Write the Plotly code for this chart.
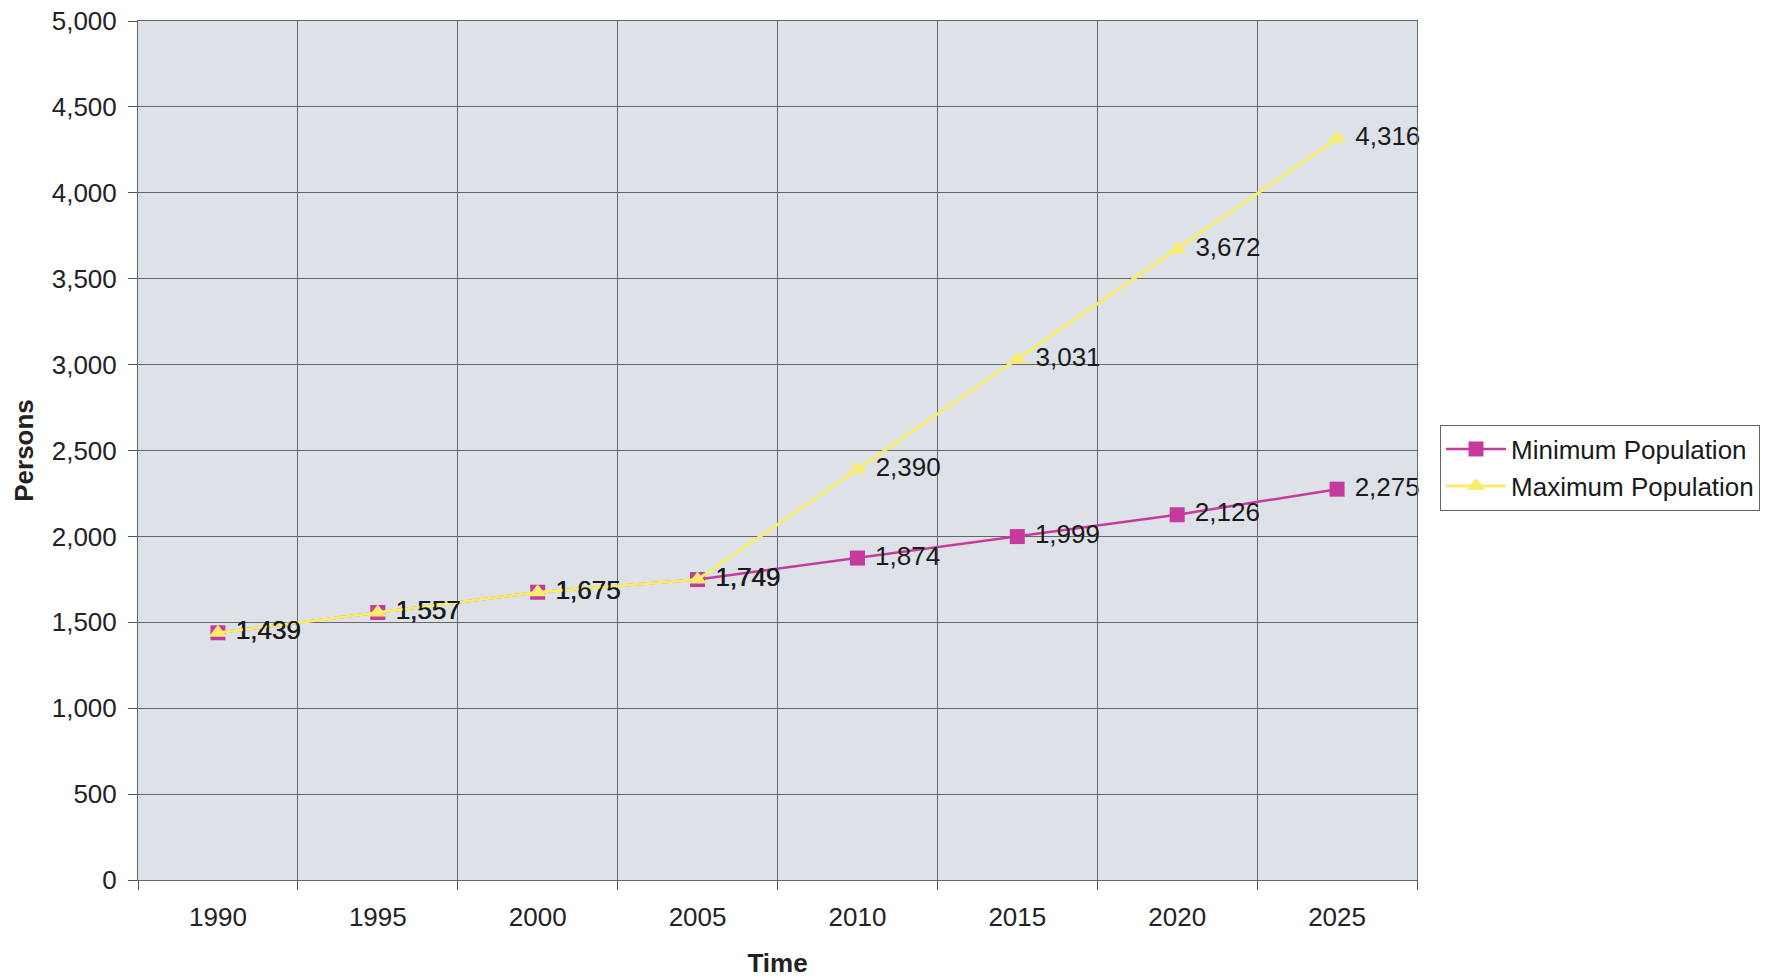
import plotly.graph_objects as go

years = ["1990", "1995", "2000", "2005", "2010", "2015", "2020", "2025"]
min_pop = [1439, 1557, 1675, 1749, 1874, 1999, 2126, 2275]
max_pop = [1439, 1557, 1675, 1749, 2390, 3031, 3672, 4316]
y_ticks = [0, 500, 1000, 1500, 2000, 2500, 3000, 3500, 4000, 4500, 5000]

font_family = "Liberation Sans, Arial, sans-serif"
magenta = "#c63a9e"
yellow = "#f7ec6e"
FS = 26

fig = go.Figure()
fig.add_trace(go.Scatter(
    x=years, y=min_pop, name="Minimum Population",
    mode="lines+markers+text",
    line=dict(color=magenta, width=2.5),
    marker=dict(symbol="square", size=15, color=magenta),
    text=[f" {v:,}" for v in min_pop], textposition="middle right",
    textfont=dict(size=FS, color="#1a1a1a", family=font_family),
    cliponaxis=False,
))
fig.add_trace(go.Scatter(
    x=years, y=max_pop, name="Maximum Population",
    mode="lines+markers+text",
    line=dict(color=yellow, width=3),
    marker=dict(symbol="triangle-up", size=16, color=yellow),
    text=[f" {v:,}" for v in max_pop], textposition="middle right",
    textfont=dict(size=FS, color="#1a1a1a", family=font_family),
    cliponaxis=False,
))

fig.update_layout(
    width=1779, height=978,
    margin=dict(l=138, r=362, t=21, b=98, autoexpand=False),
    paper_bgcolor="white",
    plot_bgcolor="#dde1e8",
    font=dict(family=font_family, size=FS, color="#222"),
    legend=dict(
        x=1.018, xanchor="left", y=0.48, yanchor="middle",
        bgcolor="white", bordercolor="#666", borderwidth=1,
        font=dict(size=FS, color="#1a1a1a"),
        tracegroupgap=0, itemwidth=60,
    ),
    showlegend=True,
)
fig.update_xaxes(
    type="category", range=[-0.5, 7.5],
    tickson="boundaries", ticks="outside", ticklen=9, tickcolor="#555",
    ticklabelstandoff=14,
    showgrid=True, gridcolor="#666", gridwidth=1,
    showline=True, linecolor="#666", mirror=True,
    tickfont=dict(size=FS, color="#222"),
    title=dict(text="<b>Time</b>", font=dict(size=FS, color="#222"), standoff=22),
)
fig.update_yaxes(
    range=[0, 5000], tickvals=y_ticks,
    ticktext=[f"{v:,}" for v in y_ticks],
    ticks="outside", ticklen=9, tickcolor="#555",
    ticklabelstandoff=6,
    showgrid=True, gridcolor="#666", gridwidth=1,
    showline=True, linecolor="#666", mirror=True, zeroline=False,
    tickfont=dict(size=FS, color="#222"),
    title=dict(text="<b>Persons</b>", font=dict(size=FS, color="#222"), standoff=10),
)

fig.write_html("out.html")
